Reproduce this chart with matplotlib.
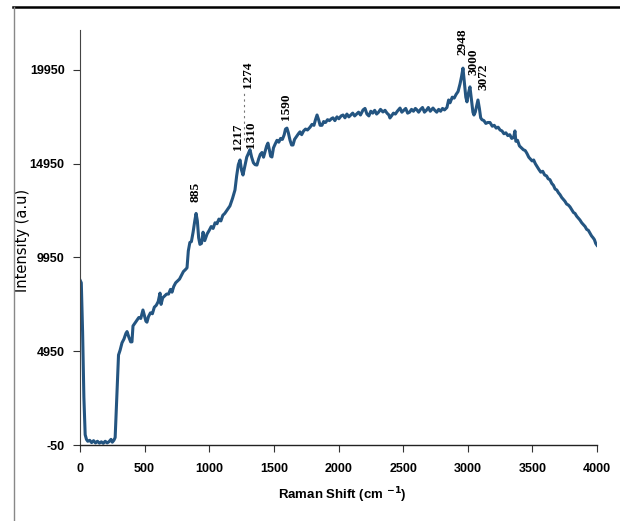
import matplotlib
matplotlib.use("Agg")
import matplotlib.pyplot as plt
from matplotlib.lines import Line2D

# ---- data: (Raman shift, intensity) ----
rayleigh_region = [
    (0, 8750), (10, 8600), (20, 6000), (30, 2500), (40, 500), (50, 250), (60, 150), (75, 200), (90, 80),
    (105, 180), (120, 60), (135, 150), (150, 50), (165, 120), (180, 40), (195, 150), (210, 60), (225, 130),
    (240, 250), (250, 100), (262, 200), (272, 350), (285, 2500), (298, 4750),
]
low_region = [
    (310, 5000), (325, 5400), (340, 5600), (355, 5900), (364, 6000), (378, 5700), (392, 5450), (402, 5450),
    (410, 6300), (425, 6450), (440, 6600), (455, 6750), (470, 6700), (487, 7150), (500, 6800), (510, 6550),
    (518, 6500), (530, 6800), (545, 7000), (560, 6950), (575, 7300), (590, 7400), (605, 7600), (619, 8050),
    (627, 7450), (640, 7800), (655, 7900), (670, 8000), (685, 8000), (700, 8250), (712, 8100), (725, 8400),
    (740, 8600), (755, 8700), (770, 8800), (785, 9000), (800, 9200), (815, 9300), (828, 9400), (838, 10300),
    (850, 10750), (862, 10800), (875, 11300), (888, 11900), (898, 12300), (908, 11900), (918, 11000),
    (928, 10650), (940, 10700), (952, 11300), (965, 10850), (983, 11200), (1000, 11400), (1015, 11600),
    (1030, 11500), (1045, 11800), (1060, 11750), (1075, 12000), (1090, 11900), (1105, 12200), (1120, 12300),
]
fingerprint_region = [
    (1140, 12500), (1160, 12700), (1180, 13100), (1199, 13550), (1212, 14300), (1225, 14900), (1238, 15150),
    (1250, 14600), (1261, 14350), (1275, 14800), (1290, 15300), (1303, 15500), (1315, 15700), (1328, 15300),
    (1342, 15000), (1355, 14900), (1369, 14880), (1382, 15200), (1395, 15450), (1408, 15550), (1420, 15300),
    (1432, 15600), (1444, 15900), (1454, 16050), (1465, 15700), (1475, 15350), (1485, 15310), (1497, 15800),
    (1510, 16000), (1524, 16200), (1538, 16100), (1552, 16300), (1566, 16250), (1580, 16500), (1590, 16800),
    (1601, 16850), (1612, 16600), (1625, 16200), (1637, 15950), (1648, 15950), (1660, 16250), (1675, 16400),
    (1690, 16550), (1702, 16650), (1715, 16500), (1730, 16700), (1745, 16800), (1760, 16750), (1780, 16900),
    (1795, 17050), (1810, 17000), (1822, 17300), (1834, 17550), (1846, 17300), (1858, 17000), (1872, 17000),
]
plateau_region = [
    (1885, 17200), (1900, 17150), (1915, 17300), (1930, 17250), (1945, 17350), (1957, 17400), (1972, 17250),
    (1988, 17450), (2003, 17350), (2020, 17500), (2035, 17550), (2050, 17400), (2065, 17600), (2080, 17450),
    (2095, 17550), (2110, 17650), (2125, 17500), (2140, 17600), (2155, 17700), (2170, 17550), (2190, 17820),
    (2205, 17900), (2220, 17600), (2235, 17500), (2250, 17750), (2265, 17650), (2280, 17800), (2295, 17600),
    (2310, 17700), (2325, 17850), (2344, 17710), (2360, 17800), (2375, 17650), (2390, 17550), (2398, 17390),
    (2410, 17500), (2425, 17650), (2440, 17600), (2455, 17750), (2476, 17920), (2490, 17700), (2505, 17800),
    (2520, 17900), (2535, 17650), (2550, 17700), (2565, 17850), (2580, 17750), (2595, 17900), (2607, 17820),
    (2620, 17700), (2635, 17850), (2650, 17950), (2665, 17700), (2680, 17800), (2695, 17950), (2710, 17750),
    (2731, 17920), (2745, 17800), (2760, 17700), (2775, 17850), (2790, 17750), (2805, 17900), (2820, 17820),
    (2839, 17950),
]
ch_region = [
    (2852, 18350), (2863, 18200), (2880, 18500), (2895, 18450), (2910, 18650), (2925, 18800), (2940, 19200),
    (2952, 19600), (2963, 20050), (2972, 19400), (2985, 18500), (2994, 18250), (3005, 18700), (3017, 19050),
    (3028, 18400), (3040, 17700), (3048, 17550), (3058, 17700), (3068, 18000), (3079, 18350), (3090, 17900),
    (3100, 17400),
]
tail_region = [
    (3110, 17300), (3125, 17250), (3140, 17100), (3155, 17150), (3172, 17150), (3190, 16950), (3205, 17000),
    (3220, 16850), (3235, 16900), (3250, 16750), (3265, 16700), (3280, 16550), (3295, 16600), (3310, 16450),
    (3325, 16500), (3340, 16300), (3355, 16350), (3365, 16700), (3372, 16150), (3385, 16200), (3400, 15900),
    (3415, 15800), (3430, 15700), (3445, 15650), (3458, 15500), (3472, 15300), (3485, 15200), (3498, 15100),
    (3510, 15150), (3523, 14950), (3536, 14800), (3550, 14650), (3565, 14500), (3580, 14550), (3595, 14350),
    (3610, 14300), (3622, 14150), (3636, 14100), (3650, 13900), (3663, 13800), (3676, 13600), (3689, 13550),
    (3702, 13400), (3714, 13300), (3727, 13150), (3740, 13050), (3752, 12950), (3765, 12800), (3778, 12750),
    (3791, 12650), (3805, 12500), (3818, 12350), (3830, 12300), (3843, 12150), (3856, 12050), (3868, 11950),
    (3882, 11800), (3895, 11700), (3908, 11600), (3920, 11450), (3933, 11400), (3946, 11250), (3958, 11100),
    (3970, 11000), (3980, 10900), (3990, 10700), (4000, 10600),
]

peak_labels = ["885", "1217", "1274", "1310", "1590", "2948", "3000", "3072"]
peak_x = [890, 1222, 1300, 1323, 1594, 2963, 3041, 3118]
peak_y = [12910, 15683, 18990, 15790, 17283, 20750, 19683, 18883]

x_ticks = [0, 500, 1000, 1500, 2000, 2500, 3000, 3500, 4000]
y_ticks = [-50, 4950, 9950, 14950, 19950]

spectrum = rayleigh_region + low_region + fingerprint_region + plateau_region + ch_region + tail_region
shift = [p[0] for p in spectrum]
intensity = [p[1] for p in spectrum]

tickfont = ['Liberation Sans', 'DejaVu Sans']

fig = plt.figure(figsize=(6.2, 5.21), dpi=100)
ax = fig.add_axes([80/620, 1 - 445/521, (597-80)/620, (445-30)/521])

ax.plot(shift, intensity, color='#245581', lw=2.2, solid_joinstyle='round')

ax.set_xlim(0, 4000)
ax.set_ylim(-50, 22083)
ax.set_xticks(x_ticks)
ax.set_yticks(y_ticks)
ax.set_xticklabels([str(v) for v in x_ticks], family=tickfont, fontweight='bold', fontsize=9)
ax.set_yticklabels([str(v) for v in y_ticks], family=tickfont, fontweight='bold', fontsize=9)
ax.tick_params(axis='both', direction='out', length=5, width=0.8, color='#333333')
ax.tick_params(axis='x', pad=8)
ax.tick_params(axis='y', pad=6)

for s in ['top', 'right']:
    ax.spines[s].set_visible(False)
ax.spines['left'].set_color('#444444')
ax.spines['left'].set_linewidth(0.8)
ax.spines['bottom'].set_color('#222222')
ax.spines['bottom'].set_linewidth(1.0)

ax.set_ylabel('Intensity (a.u)', family='DejaVu Sans', fontsize=10.5)
ax.yaxis.set_label_coords(-(80-30)/517, (445-240)/415)
ax.set_xlabel(r'Raman Shift (cm $^{\mathbf{-1}}$)', family=tickfont, fontweight='bold', fontsize=9.5)
ax.xaxis.set_label_coords((342-80)/517, -(485-445)/415)

for lab, px, py in zip(peak_labels, peak_x, peak_y):
    ax.text(px, py, lab, rotation=90, ha='center', va='bottom',
            family=['Liberation Serif', 'DejaVu Serif'], fontweight='bold', fontsize=9.5)

# small dashed leader under 1274 label
ax.plot([1270, 1270], [16200, 18700], color='#777777', lw=0.8, ls=(0, (2, 3)))

# outer frame lines
fig.add_artist(Line2D([13/620, 1], [1 - 7/521, 1 - 7/521], transform=fig.transFigure, color='black', lw=1.8))
fig.add_artist(Line2D([14/620, 14/620], [0, 1 - 7/521], transform=fig.transFigure, color='#888888', lw=1.0))

fig.savefig('out.png', dpi=100)
